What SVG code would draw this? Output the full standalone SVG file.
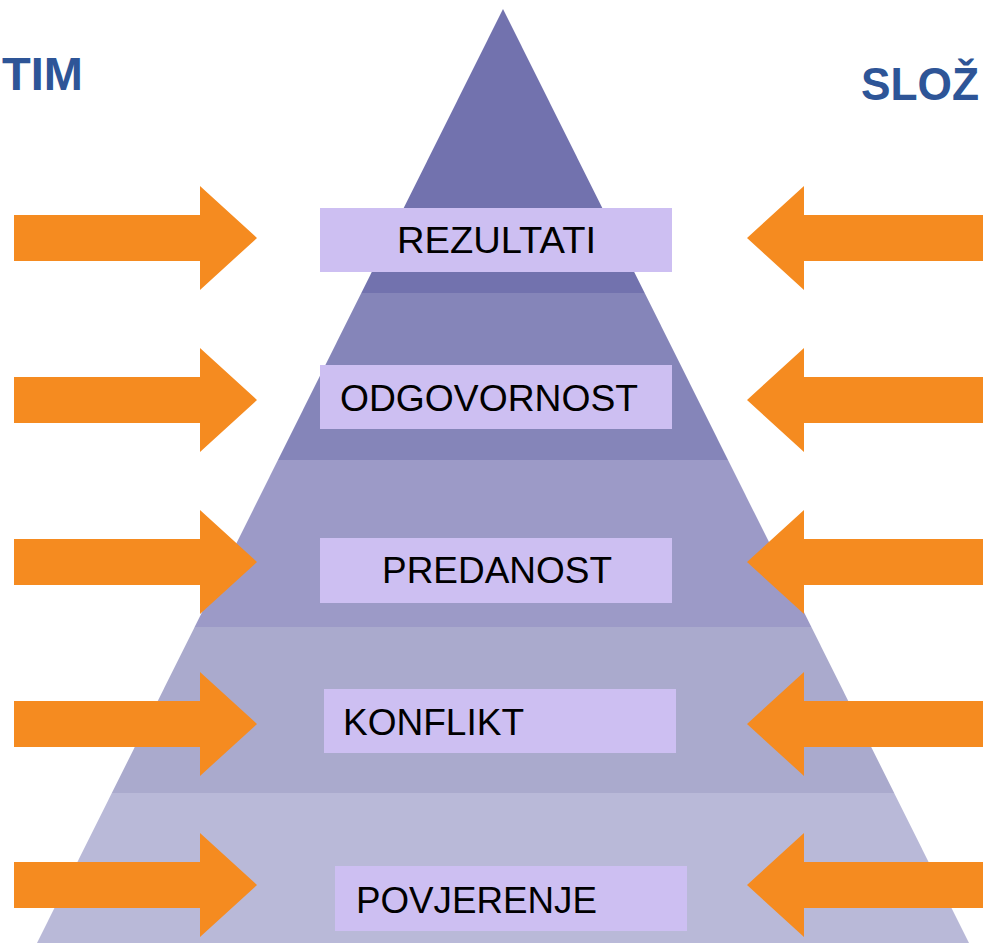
<svg xmlns="http://www.w3.org/2000/svg" xmlns:xlink="http://www.w3.org/1999/xlink" width="983" height="943" viewBox="0 0 983 943">
<style>
.title{font-family:"Liberation Sans",Arial,sans-serif;font-weight:bold;fill:#2e5597}
.box{fill:#cdbff2}
.lbl{font-family:"Liberation Sans",Arial,sans-serif;font-size:36px;fill:#000}
.arr{fill:#f58b20}
</style>
<defs>
<clipPath id="tri"><polygon points="503,9 969,943 37,943"/></clipPath>
<path id="arrL" d="M14,-23 H200 V-52 L257,0 L200,52 V23 H14 Z"/>
<path id="arrR" d="M983,-23 H804 V-52 L747,0 L804,52 V23 H983 Z"/>
</defs>
<rect width="983" height="943" fill="#fff"/>
<g id="pyramid" clip-path="url(#tri)">
<rect x="0" y="0" width="983" height="293" fill="#7272ae"/>
<rect x="0" y="293" width="983" height="167" fill="#8585b9"/>
<rect x="0" y="460" width="983" height="167" fill="#9c9ac7"/>
<rect x="0" y="627" width="983" height="166" fill="#aaaacd"/>
<rect x="0" y="793" width="983" height="150" fill="#b9b9d8"/>
</g>
<text id="tim" class="title" x="2" y="90" font-size="47">TIM</text>
<text id="slozenost" class="title" x="861" y="100" font-size="46" textLength="118" lengthAdjust="spacingAndGlyphs">SLOŽ</text>
<g id="connectors" class="arr">
<use xlink:href="#arrL" y="238"/>
<use xlink:href="#arrL" y="400"/>
<use xlink:href="#arrL" y="562"/>
<use xlink:href="#arrL" y="724"/>
<use xlink:href="#arrL" y="885"/>
<use xlink:href="#arrR" y="238"/>
<use xlink:href="#arrR" y="400"/>
<use xlink:href="#arrR" y="562"/>
<use xlink:href="#arrR" y="724"/>
<use xlink:href="#arrR" y="885"/>
</g>
<g id="rezultati"><rect class="box" x="320" y="208" width="352" height="64"/><text class="lbl" x="397" y="253" textLength="199" lengthAdjust="spacingAndGlyphs">REZULTATI</text></g>
<g id="odgovornost"><rect class="box" x="320" y="365" width="352" height="64"/><text class="lbl" x="340" y="411" textLength="298" lengthAdjust="spacingAndGlyphs">ODGOVORNOST</text></g>
<g id="predanost"><rect class="box" x="320" y="538" width="352" height="65"/><text class="lbl" x="382" y="583" textLength="230" lengthAdjust="spacingAndGlyphs">PREDANOST</text></g>
<g id="konflikt"><rect class="box" x="324" y="689" width="352" height="64"/><text class="lbl" x="343" y="735" textLength="181" lengthAdjust="spacingAndGlyphs">KONFLIKT</text></g>
<g id="povjerenje"><rect class="box" x="335" y="866" width="352" height="65"/><text class="lbl" x="356" y="913" textLength="241" lengthAdjust="spacingAndGlyphs">POVJERENJE</text></g>
</svg>
